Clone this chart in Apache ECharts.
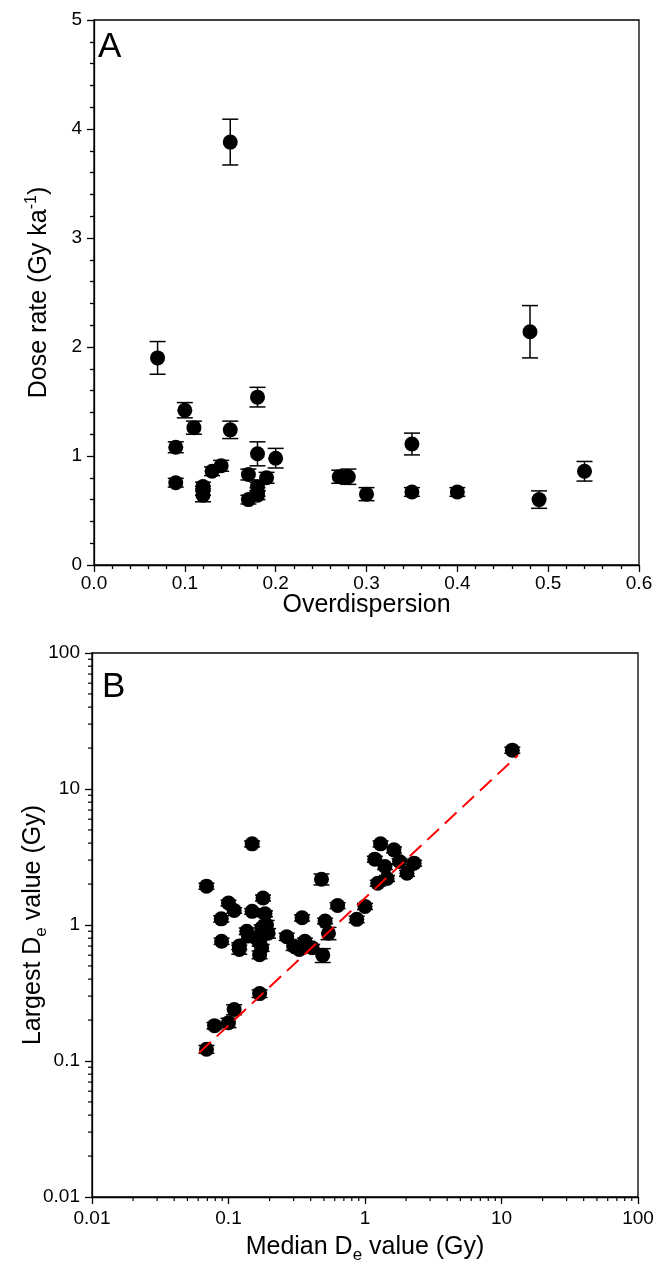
<!DOCTYPE html>
<html><head><meta charset="utf-8">
<script src="https://cdn.jsdelivr.net/npm/echarts@6/dist/echarts.min.js"></script>
<style>html,body{margin:0;padding:0;background:#fff}#c{width:656px;height:1268px}</style>
</head><body><div id="c"></div>
<script>
// ---------- Panel A: dose rate vs overdispersion ----------
const overdispersion = [0.07,0.09,0.09,0.10,0.11,0.12,0.12,0.12,0.13,0.14,0.15,0.15,0.17,0.17,0.18,0.18,0.18,0.18,0.18,0.19,0.20,0.27,0.28,0.30,0.35,0.35,0.40,0.48,0.49,0.54];
const doseRate       = [1.90,1.08,0.755,1.42,1.26,0.72,0.68,0.64,0.86,0.91,3.88,1.24,0.83,0.60,1.54,1.02,0.72,0.67,0.64,0.80,0.98,0.81,0.81,0.65,1.11,0.67,0.67,2.14,0.60,0.86];
const doseRateErr    = [0.15,0.05,0.04,0.07,0.06,0.04,0.04,0.06,0.04,0.05,0.21,0.08,0.05,0.04,0.09,0.11,0.04,0.04,0.04,0.05,0.09,0.06,0.07,0.06,0.10,0.04,0.04,0.24,0.08,0.09];

// ---------- Panel B: largest De vs median De ----------
const medianDe   = [12.0,0.149,0.069,0.48,1.30,1.63,1.18,1.79,2.29,1.40,2.03,1.24,1.45,0.179,0.10,0.11,0.63,1.00,0.0885,0.149,0.185,0.346,0.51,0.87,0.19,0.195,0.54,0.089,0.12,0.12,0.136,0.14,0.169,0.169,0.169,0.175,0.267,0.30,0.363,0.33,0.41,0.49,0.169,0.11,0.10,0.079,0.069,0.175,0.16];
const largestDe  = [19.3,3.95,1.93,2.17,3.95,3.57,3.05,2.93,2.85,2.69,2.40,2.03,2.20,1.58,1.45,1.28,1.39,1.37,1.11,1.26,1.21,1.13,1.07,1.10,1.00,0.87,0.87,0.76,0.70,0.66,0.90,0.83,0.82,0.74,0.605,0.68,0.82,0.70,0.76,0.66,0.68,0.60,0.313,0.239,0.191,0.182,0.122,0.95,0.80];
const largestDeErr=[1.0,0.20,0.10,0.20,0.20,0.18,0.15,0.15,0.14,0.13,0.12,0.10,0.11,0.08,0.07,0.06,0.07,0.07,0.06,0.06,0.06,0.06,0.05,0.06,0.08,0.07,0.09,0.04,0.04,0.05,0.05,0.04,0.05,0.04,0.04,0.04,0.05,0.05,0.04,0.04,0.04,0.07,0.02,0.02,0.015,0.01,0.008,0.05,0.04];
const fitLineX = [0.061, 13.2];
const fitLineY = [0.115, 17.7];
const logMinorTicks = [0.02,0.03,0.04,0.05,0.06,0.07,0.08,0.09,0.2,0.3,0.4,0.5,0.6,0.7,0.8,0.9,2,3,4,5,6,7,8,9,20,30,40,50,60,70,80,90];

const FONT = "'Liberation Sans', Arial, sans-serif";
const BLACK = '#000';

const chart = echarts.init(document.getElementById('c'), null, {renderer:'canvas'});

function zip3(a,b,c){ return a.map((v,i)=>[v,b[i],c[i]]); }

function errorBar(params, api){
  const x = api.value(0), y = api.value(1), e = api.value(2);
  const t = api.coord([x, y + e]);
  const b = api.coord([x, y - e]);
  const hw = 8;
  const st = {stroke: BLACK, lineWidth: 1.5, fill: null};
  return {type:'group', children:[
    {type:'line', shape:{x1:t[0],y1:t[1],x2:b[0],y2:b[1]}, style:st},
    {type:'line', shape:{x1:t[0]-hw,y1:t[1],x2:t[0]+hw,y2:t[1]}, style:st},
    {type:'line', shape:{x1:b[0]-hw,y1:b[1],x2:b[0]+hw,y2:b[1]}, style:st}
  ]};
}

function minorLogTicks(params, api){
  const v = api.value(0);
  const px = api.coord([v, 0.01]);
  const py = api.coord([0.01, v]);
  const st = {stroke: BLACK, lineWidth: 1.2};
  return {type:'group', children:[
    {type:'line', shape:{x1:px[0],y1:px[1],x2:px[0],y2:px[1]+4}, style:st},
    {type:'line', shape:{x1:py[0],y1:py[1],x2:py[0]-4,y2:py[1]}, style:st}
  ]};
}

const axisLineStyle = {color: BLACK, width: 1.3};
const labelStyle = {fontSize: 19, color: BLACK, fontFamily: FONT};
const nameStyleBase = {fontSize: 25, color: BLACK, fontFamily: FONT};
const richStyles = {
  t:   {fontSize: 25, color: BLACK, fontFamily: FONT, lineHeight: 27},
  sup: {fontSize: 16, color: BLACK, fontFamily: FONT, lineHeight: 16, padding: [0,0,15,0]},
  sub: {fontSize: 17, color: BLACK, fontFamily: FONT, lineHeight: 17, padding: [15,0,0,0]}
};
function logLabel(v){ return String(+Number(v).toPrecision(3)); }

const option = {
  backgroundColor: '#fff',
  animation: false,
  title: [
    {text:'A', left: 98, top: 30, padding: 0, textStyle:{fontSize: 35, fontWeight:'normal', color: BLACK, fontFamily: FONT}},
    {text:'B', left: 102, top: 670, padding: 0, textStyle:{fontSize: 35, fontWeight:'normal', color: BLACK, fontFamily: FONT}}
  ],
  grid: [
    {left: 94, top: 20, width: 545, height: 545, show: true, borderColor: BLACK, borderWidth: 1.3, backgroundColor:'transparent', containLabel: false, outerBoundsMode: 'none'},
    {left: 92, top: 653, width: 546, height: 544, show: true, borderColor: BLACK, borderWidth: 1.3, backgroundColor:'transparent', containLabel: false, outerBoundsMode: 'none'}
  ],
  xAxis: [
    {gridIndex: 0, type: 'value', min: 0, max: 0.6, interval: 0.1,
     name: 'Overdispersion', nameLocation: 'middle', nameGap: 28, nameMoveOverlap: false, nameTextStyle: nameStyleBase,
     axisLine: {show: true, onZero: false, lineStyle: axisLineStyle},
     axisTick: {show: true, inside: false, length: 7, lineStyle: axisLineStyle},
     minorTick: {show: true, splitNumber: 5, length: 4, lineStyle: axisLineStyle},
     splitLine: {show: false}, minorSplitLine: {show: false},
     axisLabel: Object.assign({margin: 9, formatter: v => v.toFixed(1)}, labelStyle)},
    {gridIndex: 1, type: 'log', logBase: 10, min: 0.01, max: 100,
     name: '{t|Median D}{sub|e}{t| value (Gy)}', nameLocation: 'middle', nameGap: 37, nameMoveOverlap: false,
     nameTextStyle: Object.assign({rich: richStyles}, nameStyleBase),
     axisLine: {show: true, onZero: false, lineStyle: axisLineStyle},
     axisTick: {show: true, inside: false, length: 7, lineStyle: axisLineStyle},
     minorTick: {show: false},
     splitLine: {show: false},
     axisLabel: Object.assign({margin: 12, formatter: logLabel}, labelStyle)}
  ],
  yAxis: [
    {gridIndex: 0, type: 'value', min: 0, max: 5, interval: 1,
     name: '{t|Dose rate (Gy ka}{sup|-1}{t|)}', nameLocation: 'middle', nameGap: 41, nameMoveOverlap: false,
     nameTextStyle: Object.assign({rich: richStyles}, nameStyleBase),
     axisLine: {show: true, onZero: false, lineStyle: axisLineStyle},
     axisTick: {show: true, inside: false, length: 7, lineStyle: axisLineStyle},
     minorTick: {show: true, splitNumber: 5, length: 4, lineStyle: axisLineStyle},
     splitLine: {show: false}, minorSplitLine: {show: false},
     axisLabel: Object.assign({margin: 12}, labelStyle)},
    {gridIndex: 1, type: 'log', logBase: 10, min: 0.01, max: 100,
     name: '{t|Largest D}{sub|e}{t| value (Gy)}', nameLocation: 'middle', nameGap: 45, nameMoveOverlap: false,
     nameTextStyle: Object.assign({rich: richStyles}, nameStyleBase),
     axisLine: {show: true, onZero: false, lineStyle: axisLineStyle},
     axisTick: {show: true, inside: false, length: 7, lineStyle: axisLineStyle},
     minorTick: {show: false},
     splitLine: {show: false},
     axisLabel: Object.assign({margin: 12, formatter: logLabel}, labelStyle)}
  ],
  series: [
    {type:'custom', xAxisIndex:0, yAxisIndex:0, renderItem: errorBar, data: zip3(overdispersion, doseRate, doseRateErr), silent:true, z:2},
    {type:'scatter', xAxisIndex:0, yAxisIndex:0, data: overdispersion.map((x,i)=>[x, doseRate[i]]),
     symbol:'circle', symbolSize: 15, itemStyle:{color: BLACK, opacity: 1}, z:3},
    {type:'custom', xAxisIndex:1, yAxisIndex:1, renderItem: minorLogTicks, data: logMinorTicks.map(v=>[v]), clip:false, silent:true, z:1},
    {type:'line', xAxisIndex:1, yAxisIndex:1, data: fitLineX.map((x,i)=>[x, fitLineY[i]]),
     showSymbol:false, symbol:'none', lineStyle:{color:'#ff0000', width: 2, type:[16,8]}, z:4},
    {type:'custom', xAxisIndex:1, yAxisIndex:1, renderItem: errorBar, data: zip3(medianDe, largestDe, largestDeErr), silent:true, z:2},
    {type:'scatter', xAxisIndex:1, yAxisIndex:1, data: medianDe.map((x,i)=>[x, largestDe[i]]),
     symbol:'circle', symbolSize: 15, itemStyle:{color: BLACK, opacity: 1}, z:3}
  ]
};
chart.setOption(option);
</script>
</body></html>
